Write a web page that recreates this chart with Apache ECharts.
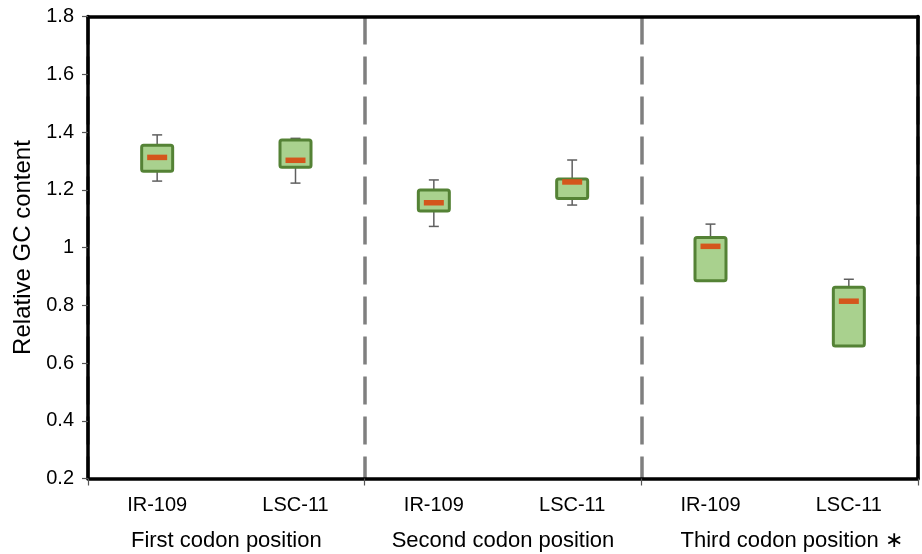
<!DOCTYPE html>
<html>
<head>
<meta charset="utf-8">
<script src="https://cdn.jsdelivr.net/npm/echarts@6/dist/echarts.min.js"></script>
<style>
html,body{margin:0;padding:0;background:#fff;}
#chart{width:922px;height:554px;}
</style>
</head>
<body>
<div id="chart"></div>
<script>
const categories = ['IR-109', 'LSC-11', 'IR-109', 'LSC-11', 'IR-109', 'LSC-11'];
const groups = ['First codon position', 'Second codon position', 'Third codon position ∗'];
const mins    = [1.230, 1.223, 1.073, 1.147, 0.885, 0.659];
const q1s     = [1.264, 1.278, 1.126, 1.170, 0.885, 0.659];
const medians = [1.312, 1.302, 1.155, 1.227, 1.004, 0.814];
const q3s     = [1.354, 1.372, 1.199, 1.237, 1.035, 0.862];
const maxs    = [1.390, 1.378, 1.234, 1.303, 1.081, 0.890];
const yTicks = { min: 0.2, max: 1.8, interval: 0.2 };

const boxData = categories.map((c, i) => [i, mins[i], q1s[i], medians[i], q3s[i], maxs[i]]);

const FONT = '"Liberation Sans", Arial, sans-serif';
const chart = echarts.init(document.getElementById('chart'));

function renderBox(params, api) {
  const idx = api.value(0);
  const pMin = api.coord([idx, api.value(1)]);
  const pQ1 = api.coord([idx, api.value(2)]);
  const pMed = api.coord([idx, api.value(3)]);
  const pQ3 = api.coord([idx, api.value(4)]);
  const pMax = api.coord([idx, api.value(5)]);
  const x = pMed[0];
  const bw = 31, cap = 10, mw = 20, mh = 5.5;
  const wStyle = { stroke: '#5f5f5f', lineWidth: 1.5 };
  const children = [];
  if (pMax[1] < pQ3[1] - 0.5) {
    children.push({ type: 'line', shape: { x1: x, y1: pMax[1], x2: x, y2: pQ3[1] }, style: wStyle });
    children.push({ type: 'line', shape: { x1: x - cap / 2, y1: pMax[1], x2: x + cap / 2, y2: pMax[1] }, style: wStyle });
  }
  if (pMin[1] > pQ1[1] + 0.5) {
    children.push({ type: 'line', shape: { x1: x, y1: pQ1[1], x2: x, y2: pMin[1] }, style: wStyle });
    children.push({ type: 'line', shape: { x1: x - cap / 2, y1: pMin[1], x2: x + cap / 2, y2: pMin[1] }, style: wStyle });
  }
  children.push({
    type: 'rect',
    shape: { x: x - bw / 2, y: pQ3[1], width: bw, height: pQ1[1] - pQ3[1], r: 2 },
    style: { fill: '#a9d18e', stroke: '#548235', lineWidth: 3 }
  });
  children.push({
    type: 'rect',
    shape: { x: x - mw / 2, y: pMed[1] - mh / 2, width: mw, height: mh },
    style: { fill: '#d4561c' }
  });
  return { type: 'group', children };
}

chart.setOption({
  backgroundColor: '#fff',
  animation: false,
  grid: { left: 88, right: 4, top: 16.5, bottom: 75.5, containLabel: false },
  xAxis: [
    {
      type: 'category', data: categories, position: 'bottom',
      axisLine: { show: true, lineStyle: { color: '#000', width: 3.5 } },
      axisTick: { show: false },
      axisLabel: { interval: 0, fontFamily: FONT, fontSize: 20, color: '#000', margin: 17 },
      splitLine: { show: false }
    },
    {
      type: 'category', data: groups.map((g, i) => i === 2 ? { value: g, textStyle: { padding: [0, 0, 0, 24] } } : g),
      position: 'bottom',
      axisLine: { show: false },
      axisTick: { show: true, interval: 0, length: 7, lineStyle: { color: '#555', width: 1.2 } },
      axisLabel: { interval: 0, fontFamily: FONT, fontSize: 22, color: '#000', margin: 51 },
      splitLine: { show: true, interval: 0, lineStyle: { color: '#7f7f7f', width: 3.5, type: [28, 12] } }
    },
    {
      type: 'category', data: groups, position: 'top',
      axisLine: { show: true, lineStyle: { color: '#000', width: 3.5 } },
      axisTick: { show: false }, axisLabel: { show: false }, splitLine: { show: false }
    }
  ],
  yAxis: [
    {
      type: 'value', min: yTicks.min, max: yTicks.max, interval: yTicks.interval,
      name: 'Relative GC content', nameLocation: 'middle', nameGap: 52,
      nameTextStyle: { fontFamily: FONT, fontSize: 24, color: '#000' },
      axisLine: { show: true, lineStyle: { color: '#000', width: 3.5 } },
      axisTick: { show: true, length: 6, lineStyle: { color: '#555', width: 1.2 } },
      axisLabel: { fontFamily: FONT, fontSize: 20, color: '#000', margin: 14 },
      splitLine: { show: false }
    },
    {
      type: 'value', min: yTicks.min, max: yTicks.max, interval: yTicks.interval, position: 'right',
      axisLine: { show: true, lineStyle: { color: '#000', width: 3.5 } },
      axisTick: { show: false }, axisLabel: { show: false }, splitLine: { show: false }
    }
  ],
  series: [{
    type: 'custom', xAxisIndex: 0, yAxisIndex: 0,
    renderItem: renderBox,
    encode: { x: 0, y: [1, 2, 3, 4, 5] },
    data: boxData,
    z: 10
  }]
});
</script>
</body>
</html>
